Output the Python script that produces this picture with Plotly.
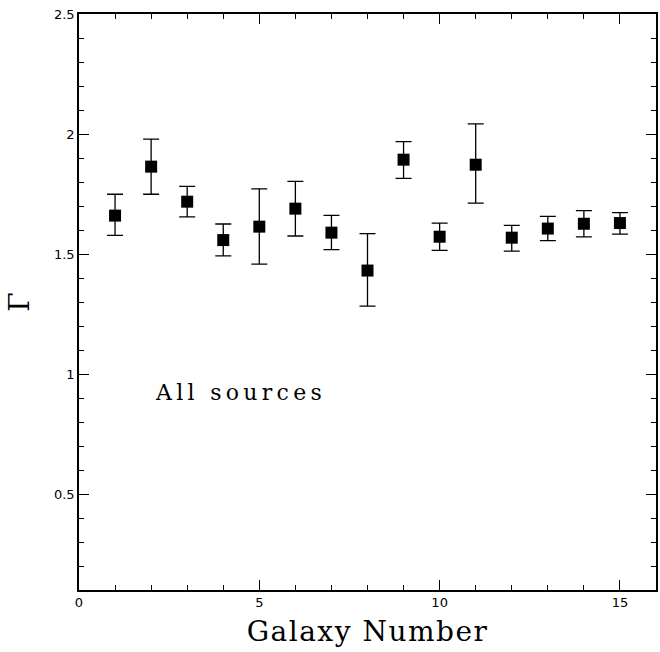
import plotly.graph_objects as go

galaxy = list(range(1, 16))
gamma = [1.660, 1.864, 1.718, 1.558, 1.614, 1.689, 1.589, 1.431, 1.893, 1.572,
         1.872, 1.568, 1.606, 1.626, 1.629]
err_plus = [0.089, 0.115, 0.064, 0.067, 0.157, 0.114, 0.072, 0.154, 0.075, 0.057,
            0.170, 0.051, 0.051, 0.055, 0.043]
err_minus = [0.082, 0.115, 0.063, 0.066, 0.156, 0.114, 0.071, 0.148, 0.078, 0.057,
             0.160, 0.056, 0.050, 0.055, 0.046]

x_ticks = [0, 5, 10, 15]
y_ticks = [0.5, 1, 1.5, 2, 2.5]
y_tick_text = ["0.5", "1", "1.5", "2", "2.5"]

fig = go.Figure()
fig.add_trace(go.Scatter(
    x=galaxy, y=gamma, mode="markers",
    marker=dict(symbol="square", size=12, color="black", line=dict(width=0)),
    error_y=dict(type="data", symmetric=False, array=err_plus, arrayminus=err_minus,
                 color="black", thickness=1.3, width=8),
    showlegend=False,
))

fig.add_annotation(x=2.04, y=0.925, xref="x", yref="y",
                   text='<span style="letter-spacing:4.3px">All sources</span>',
                   showarrow=False, xanchor="left", yanchor="middle",
                   font=dict(family="DejaVu Serif", size=22, color="black"))

axis_common = dict(
    showgrid=False, zeroline=False, showline=True, linecolor="black", linewidth=1.5,
    mirror="ticks", ticks="inside", ticklen=10, tickwidth=1.2, tickcolor="black",
    tickfont=dict(family="DejaVu Sans", size=13, color="black"),
)

fig.update_xaxes(
    range=[0, 16], tickvals=x_ticks, ticktext=[str(v) for v in x_ticks],
    minor=dict(dtick=1, tick0=0, ticks="inside", ticklen=5, tickwidth=1.2, tickcolor="black"),
    title=dict(text='<span style="letter-spacing:1.5px">Galaxy Number</span>', standoff=12,
               font=dict(family="DejaVu Serif", size=28, color="black")),
    **axis_common,
)
fig.update_yaxes(
    range=[0.1, 2.5], tickvals=y_ticks, ticktext=y_tick_text,
    minor=dict(dtick=0.1, tick0=0, ticks="inside", ticklen=5, tickwidth=1.2, tickcolor="black"),
    title=dict(text="Γ", standoff=16,
               font=dict(family="DejaVu Serif", size=28, color="black")),
    **axis_common,
)

fig.update_layout(
    width=660, height=652,
    margin=dict(l=79, r=4, t=14, b=62, autoexpand=False),
    plot_bgcolor="white", paper_bgcolor="white",
)

fig.write_html("out.html")
